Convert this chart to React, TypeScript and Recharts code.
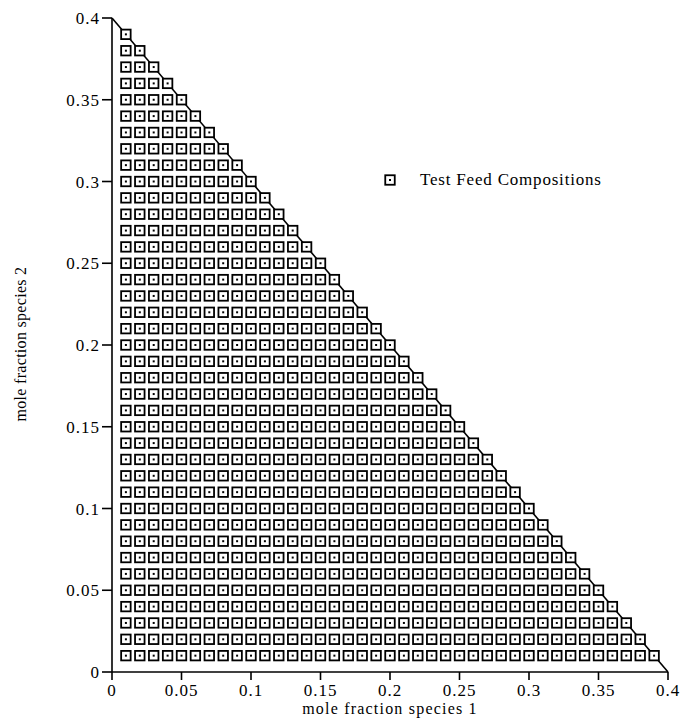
import { ScatterChart, Scatter, XAxis, YAxis, ReferenceLine } from 'recharts';

// grid positions (step 0.01)
const gridX = [
  0.01, 0.02, 0.03, 0.04, 0.05, 0.06, 0.07, 0.08, 0.09, 0.1,
  0.11, 0.12, 0.13, 0.14, 0.15, 0.16, 0.17, 0.18, 0.19, 0.2,
  0.21, 0.22, 0.23, 0.24, 0.25, 0.26, 0.27, 0.28, 0.29, 0.3,
  0.31, 0.32, 0.33, 0.34, 0.35, 0.36, 0.37, 0.38, 0.39,
];
const gridY = [
  0.01, 0.02, 0.03, 0.04, 0.05, 0.06, 0.07, 0.08, 0.09, 0.1,
  0.11, 0.12, 0.13, 0.14, 0.15, 0.16, 0.17, 0.18, 0.19, 0.2,
  0.21, 0.22, 0.23, 0.24, 0.25, 0.26, 0.27, 0.28, 0.29, 0.3,
  0.31, 0.32, 0.33, 0.34, 0.35, 0.36, 0.37, 0.38, 0.39,
];
// number of feed points in each row, bottom row first
const rowLengths = [
  39, 38, 37, 36, 35, 34, 33, 32, 31, 30,
  29, 28, 27, 26, 25, 24, 23, 22, 21, 20,
  19, 18, 17, 16, 15, 14, 13, 12, 11, 10,
  9, 8, 7, 6, 5, 4, 3, 2, 1,
];
const axisTicks = [0, 0.05, 0.1, 0.15, 0.2, 0.25, 0.3, 0.35, 0.4];
const boundary = [{ x: 0, y: 0.4 }, { x: 0.4, y: 0 }];

const points: { x: number; y: number }[] = [];
gridY.forEach((y, r) => {
  gridX.slice(0, rowLengths[r]).forEach(x => points.push({ x, y }));
});

const FONT = '"Liberation Serif", "DejaVu Serif", serif';
const tickStyle = { fill: '#000', fontSize: 17, fontFamily: FONT, letterSpacing: 1 };

function BoxDot(props: any) {
  const { cx, cy } = props;
  if (cx == null || cy == null) return null;
  return (
    <g>
      <rect x={cx - 4.75} y={cy - 4.75} width={9.5} height={9.5} fill="#fff" stroke="#000" strokeWidth={1.8} />
      <rect x={cx - 1} y={cy - 1} width={2} height={2} fill="#000" />
    </g>
  );
}

export default function App() {
  return (
    <div style={{ position: 'absolute', left: 0, top: 0, width: 683, height: 723, background: '#fff' }}>
      <ScatterChart width={683} height={723} margin={{ top: 18, right: 15, bottom: 0, left: 0 }}>
        <XAxis
          type="number"
          dataKey="x"
          domain={[0, 0.4]}
          ticks={axisTicks}
          height={51}
          tickSize={8}
          tickMargin={4}
          axisLine={{ stroke: '#000', strokeWidth: 1.6 }}
          tickLine={{ stroke: '#000', strokeWidth: 1.6 }}
          tick={tickStyle}
          label={{
            content: () => (
              <text x={390} y={714} textAnchor="middle" fill="#000" fontSize={16} letterSpacing={1.2} fontFamily={FONT}>
                mole fraction species 1
              </text>
            ),
          }}
        />
        <YAxis
          type="number"
          dataKey="y"
          domain={[0, 0.4]}
          ticks={axisTicks}
          width={112}
          tickSize={10}
          tickMargin={2}
          axisLine={{ stroke: '#000', strokeWidth: 1.6 }}
          tickLine={{ stroke: '#000', strokeWidth: 1.6 }}
          tick={tickStyle}
          label={{
            content: () => (
              <text
                x={26}
                y={344}
                transform="rotate(-90 26 344)"
                textAnchor="middle"
                fill="#000"
                fontSize={16}
                letterSpacing={0.3}
                fontFamily={FONT}
              >
                mole fraction species 2
              </text>
            ),
          }}
        />
        <ReferenceLine segment={boundary} stroke="#000" strokeWidth={1.6} ifOverflow="visible" />
        <Scatter data={points} shape={<BoxDot />} isAnimationActive={false} />
      </ScatterChart>
      <div
        style={{
          position: 'absolute',
          left: 384,
          top: 170,
          display: 'flex',
          alignItems: 'center',
          fontFamily: FONT,
          fontSize: 17,
          letterSpacing: 0.8,
          color: '#000',
          whiteSpace: 'nowrap',
        }}
      >
        <svg width={12} height={12} style={{ marginRight: 24 }}>
          <rect x={1.25} y={1.25} width={9.5} height={9.5} fill="#fff" stroke="#000" strokeWidth={1.8} />
          <rect x={5} y={5} width={2} height={2} fill="#000" />
        </svg>
        <span>Test Feed Compositions</span>
      </div>
    </div>
  );
}
